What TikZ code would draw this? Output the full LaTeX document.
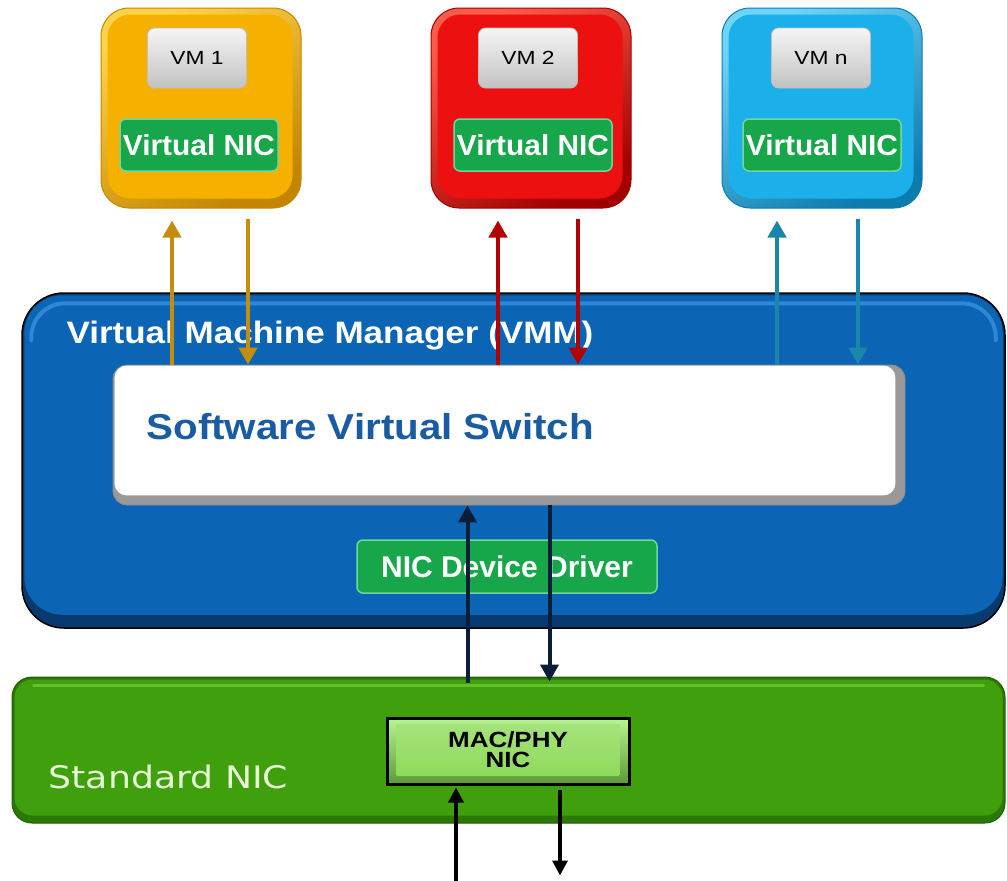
\documentclass[tikz,border=0pt]{standalone}
\usepackage{graphicx}
\usepackage{fontspec}
\setmainfont{Liberation Sans}
\newfontfamily\dvs{DejaVu Sans}
\usetikzlibrary{arrows.meta,calc}

% palette
\definecolor{goldM}{HTML}{F5B000}
\definecolor{goldL}{HTML}{FFD24A}
\definecolor{goldD}{HTML}{C48600}
\definecolor{redM}{HTML}{EC1010}
\definecolor{redL}{HTML}{FF5A4A}
\definecolor{redD}{HTML}{A20000}
\definecolor{cyanM}{HTML}{1CB0EA}
\definecolor{cyanL}{HTML}{6FD4FA}
\definecolor{cyanD}{HTML}{0C7CAE}
\definecolor{nicG}{HTML}{18A64B}
\definecolor{nicGL}{HTML}{6FD79C}
\definecolor{vmmB}{HTML}{0B64B4}
\definecolor{vmmD}{HTML}{073A6E}
\definecolor{vmmL}{HTML}{2F88D6}
\definecolor{swTxt}{HTML}{1A5CA4}
\definecolor{stdG}{HTML}{3F9F0C}
\definecolor{stdGD}{HTML}{2C7806}
\definecolor{stdGL}{HTML}{63C12A}
\definecolor{stdTxt}{HTML}{E6F7D4}
\definecolor{macL}{HTML}{B9F592}
\definecolor{macM}{HTML}{8EDB5A}
\definecolor{macD}{HTML}{5A9A35}
\definecolor{goldArr}{HTML}{C48E0C}
\definecolor{redArr}{HTML}{B30000}
\definecolor{cyanArr}{HTML}{1A86AA}
\definecolor{navyArr}{HTML}{0B1E38}

% horizontal stretch of a text
\newcommand\hs[2]{\scalebox{#1}[1]{#2}}

\begin{document}
\begin{tikzpicture}[x=1pt,y=-1pt,
  vmbox/.style={rectangle, rounded corners=28pt, minimum width=200pt, minimum height=200pt,
    draw=#1D, line width=1pt, top color=#1L, bottom color=#1D, shading angle=30},
  lblbox/.style={rectangle, rounded corners=7pt, minimum width=99pt, minimum height=60pt,
    draw=black!25, line width=0.8pt, top color=black!4, bottom color=black!24,
    font=\fontsize{19}{22}\selectfont, text=black},
  greenbox/.style={rectangle, rounded corners=6pt, fill=nicG, draw=nicGL, line width=1.5pt,
    text=white, inner sep=0pt},
  arrbase/.style={line width=4.5pt, -{Triangle[width=18pt,length=17pt]}},
  goldarrow/.style={arrbase, draw=goldArr, fill=goldArr},
  redarrow/.style={arrbase, draw=redArr, fill=redArr},
  cyanarrow/.style={arrbase, draw=cyanArr, fill=cyanArr},
  navyarrow/.style={arrbase, line width=4pt, draw=navyArr, fill=navyArr},
  blackarrow/.style={line width=3.5pt, draw=black, -{Triangle[width=15pt,length=15pt]}},
]
\useasboundingbox (0,0) rectangle (1007,881);

% ---------- virtual machines ----------
\foreach \nm/\cx/\col/\lx/\nx/\lab in {vm1/201/gold/197/199/VM 1, vm2/531/red/528/533/VM 2, vmn/822/cyan/821/822/VM n}{
  \node[vmbox=\col] (\nm) at (\cx,108) {};
  \fill[\col M, rounded corners=23pt] ([shift={(7,7)}]\nm.north west) rectangle ([shift={(-9,-10)}]\nm.south east);
  \node[lblbox] (\nm lbl) at (\lx,58) {\raisebox{-2pt}{\hs{1.2}{\lab}}};
  \node[greenbox, minimum width=158pt, minimum height=52pt,
        font=\bfseries\fontsize{29}{32}\selectfont] (\nm nic) at (\nx,145) {\hs{1.03}{Virtual NIC}};
}

% ---------- virtual machine manager ----------
\node[rectangle, rounded corners=42pt, minimum width=983pt, minimum height=335pt,
      fill=vmmD, draw=black, line width=1.5pt] (vmm) at (513.5,460.5) {};
\fill[vmmB, rounded corners=38pt] ([shift={(3,3)}]vmm.north west) rectangle ([shift={(-3,-14)}]vmm.south east);
\draw[vmmL, line width=4pt, rounded corners=34pt, line cap=round]
  ($(vmm.north west)+(10,48)$) |- ($(vmm.north east)+(-10,11)$) -- ($(vmm.north east)+(-10,48)$);
\node[anchor=base west, text=white, font=\bfseries\fontsize{31}{36}\selectfont] (vmmtitle)
  at (63,343) {\hs{1.13}{Virtual Machine Manager (VMM)}};

% software switch
\node[rectangle, rounded corners=14pt, minimum width=792pt, minimum height=140pt,
      fill=black!40, draw=black!45, line width=0.8pt] (sw) at (509,435) {};
\fill[white, rounded corners=12pt] ([shift={(2,1)}]sw.north west) rectangle ([shift={(-10,-10)}]sw.south east);
\node[anchor=base west, text=swTxt, font=\bfseries\fontsize{36}{40}\selectfont] (swtxt)
  at (143,439) {\hs{1.12}{Software Virtual Switch}};

% NIC device driver
\node[greenbox, minimum width=300pt, minimum height=53pt,
      font=\bfseries\fontsize{30}{34}\selectfont] (drv) at (507,566.5) {NIC Device Driver};

% ---------- standard NIC ----------
\node[rectangle, rounded corners=20pt, minimum width=993pt, minimum height=146pt,
      fill=stdGD, draw=stdGD!80!black, line width=1pt] (nic) at (508.5,750) {};
\fill[stdG, rounded corners=18pt] ([shift={(3,3)}]nic.north west) rectangle ([shift={(-3,-8)}]nic.south east);
\draw[stdGL, line width=3pt, line cap=round] ($(nic.north west)+(22,9)$) -- ($(nic.north east)+(-22,9)$);
\node[anchor=base west, text=stdTxt, font=\dvs\fontsize{31}{36}\selectfont] (nictxt)
  at (45,788) {\hs{1.17}{Standard NIC}};

% MAC/PHY block
\node[rectangle, minimum width=242pt, minimum height=66pt, draw=black, line width=3pt,
      top color=macL, bottom color=macD] (mac) at (508,751) {};
\fill[top color=macM!80!white, bottom color=macM] ([shift={(11,8)}]mac.north west) rectangle ([shift={(-11,-10)}]mac.south east);
\node[anchor=base, font=\bfseries\fontsize{22}{22}\selectfont, text=black] (mactxt1)
  at (508,747) {\hs{1.18}{MAC/PHY}};
\node[anchor=base, font=\bfseries\fontsize{22}{22}\selectfont, text=black] (mactxt2)
  at (508,767) {\hs{1.18}{NIC}};

% ---------- connectors ----------
\coordinate (u1) at ($(vm1.south)+(-29,12)$);
\coordinate (d1) at ($(vm1.south)+(47,10)$);
\coordinate (u2) at ($(vm2.south)+(-33,12)$);
\coordinate (d2) at ($(vm2.south)+(47,10)$);
\coordinate (u3) at ($(vmn.south)+(-45,12)$);
\coordinate (d3) at ($(vmn.south)+(36,10)$);
\draw[goldarrow] (u1 |- sw.north) -- (u1);
\draw[goldarrow] (d1) -- (d1 |- sw.north);
\draw[redarrow] (u2 |- sw.north) -- (u2);
\draw[redarrow] (d2) -- (d2 |- sw.north);
\draw[cyanarrow] (u3 |- sw.north) -- (u3);
\draw[cyanarrow] (d3) -- (d3 |- sw.north);

\coordinate (p1) at ($(nic.north)+(-41,6)$);
\coordinate (p2) at ($(nic.north)+(41,5)$);
\draw[navyarrow] (p1) -- (p1 |- sw.south);
\draw[navyarrow] (p2 |- sw.south) -- (p2);

\coordinate (b1) at ($(mac.south)+(-52,97)$);
\coordinate (b2) at ($(mac.south)+(52,4)$);
\draw[blackarrow] (b1) -- ($(b1 |- mac.south)+(0,2)$);
\draw[blackarrow] (b2) -- ($(b2)+(0,86)$);
\end{tikzpicture}
\end{document}
